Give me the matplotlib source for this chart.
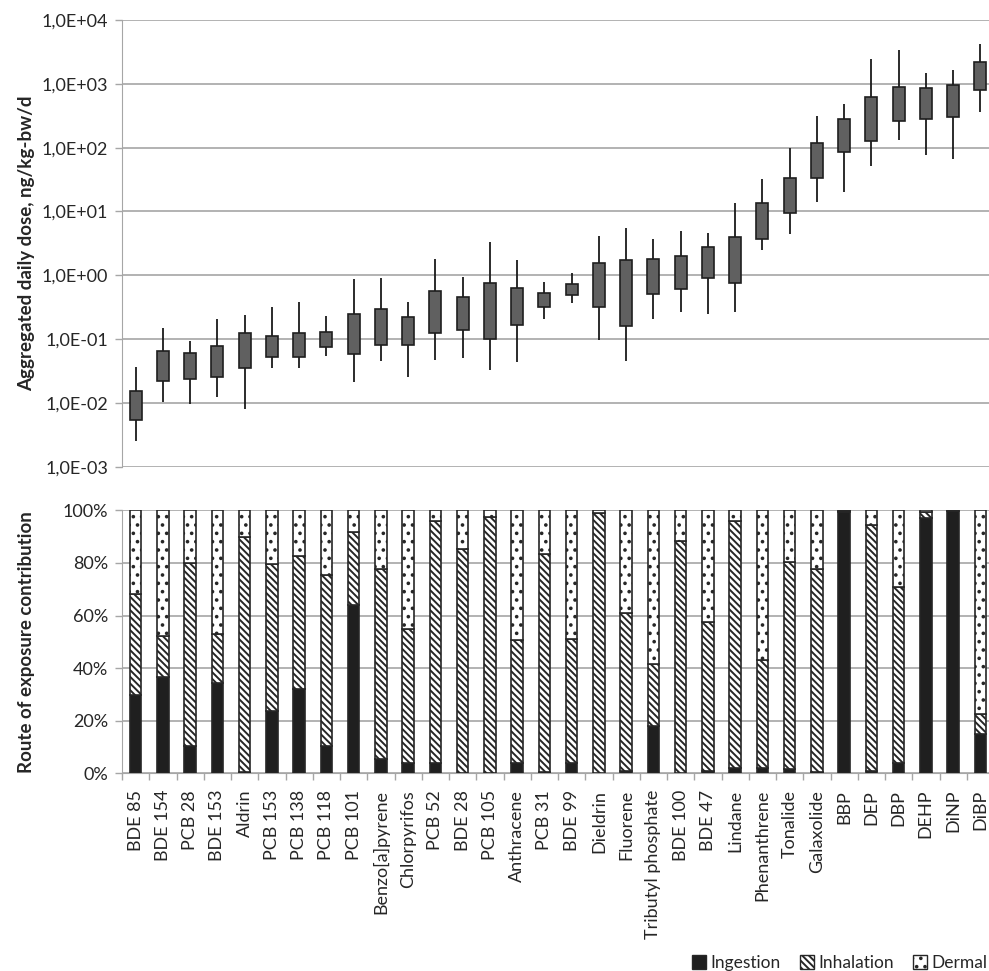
import numpy as np
import matplotlib
matplotlib.use("Agg")
import matplotlib.pyplot as plt
from matplotlib.patches import Patch
from matplotlib.ticker import FixedLocator, FuncFormatter

plt.rcParams['font.family'] = ['Lato', 'DejaVu Sans']
plt.rcParams['hatch.linewidth'] = 1.4

names = ['BDE 85', 'BDE 154', 'PCB 28', 'BDE 153', 'Aldrin', 'PCB 153', 'PCB 138',
         'PCB 118', 'PCB 101', 'Benzo[a]pyrene', 'Chlorpyrifos', 'PCB 52', 'BDE 28',
         'PCB 105', 'Anthracene', 'PCB 31', 'BDE 99', 'Dieldrin', 'Fluorene',
         'Tributyl phosphate', 'BDE 100', 'BDE 47', 'Lindane', 'Phenanthrene',
         'Tonalide', 'Galaxolide', 'BBP', 'DEP', 'DBP', 'DEHP', 'DiNP', 'DiBP']

# aggregated daily dose, ng/kg-bw/d
whisker_lo = [0.0025, 0.0102, 0.0095, 0.0122, 0.0079, 0.0356, 0.0347, 0.0535, 0.0214, 0.0457,
              0.0257, 0.0463, 0.0509, 0.0331, 0.0441, 0.203, 0.371, 0.0977, 0.0452, 0.206,
              0.262, 0.247, 0.268, 2.45, 4.37, 13.9, 19.9, 50.8, 133, 77.5, 67.1, 366]
box_lo = [0.0053, 0.0222, 0.0233, 0.0254, 0.0347, 0.0522, 0.0528, 0.0758, 0.0589, 0.0805,
          0.0796, 0.123, 0.140, 0.102, 0.166, 0.313, 0.490, 0.318, 0.158, 0.501,
          0.600, 0.904, 0.755, 3.65, 9.33, 33.8, 86.3, 125, 258, 281, 298, 790]
box_hi = [0.0155, 0.065, 0.060, 0.078, 0.123, 0.110, 0.123, 0.127, 0.244, 0.295,
          0.221, 0.565, 0.461, 0.755, 0.622, 0.532, 0.728, 1.55, 1.71, 1.77,
          2.02, 2.77, 3.92, 13.7, 33.0, 119, 281, 629, 902, 869, 969, 2170]
whisker_hi = [0.036, 0.147, 0.093, 0.21, 0.238, 0.318, 0.38, 0.229, 0.87, 0.90,
              0.376, 1.79, 0.926, 3.27, 1.73, 0.773, 1.07, 4.07, 5.56, 3.65,
              4.87, 4.53, 13.4, 31.8, 97.4, 309, 477, 2477, 3347, 1459, 1645, 4205]

# route of exposure contribution, %
ingestion = [29.7, 36.8, 10.5, 34.3, 0.4, 23.8, 32.0, 10.5, 63.9, 5.6, 3.8, 4.1, 0.3, 0.3,
             3.8, 0.6, 3.8, 0.3, 0.9, 18.1, 0.3, 0.9, 1.9, 1.9, 1.6, 0.6, 99.3, 0.9, 3.8,
             97.0, 99.7, 14.9]
inhalation = [38.5, 15.4, 69.5, 18.5, 89.6, 55.7, 50.6, 64.8, 27.7, 72.2, 51.0, 91.9, 85.1,
              97.3, 46.8, 82.8, 47.4, 98.6, 60.2, 23.3, 88.2, 56.5, 94.0, 41.3, 78.9, 77.0,
              0.3, 93.5, 67.2, 2.5, 0.2, 7.5]
dermal = [31.8, 47.8, 20.0, 47.2, 10.0, 20.5, 17.4, 24.7, 8.4, 22.2, 45.2, 4.0, 14.6, 2.4,
          49.4, 16.6, 48.8, 1.1, 38.9, 58.6, 11.5, 42.6, 4.1, 56.8, 19.5, 22.4, 0.4, 5.6,
          29.0, 0.5, 0.1, 77.6]

txt = '#262626'
grid = '#a6a6a6'
W, H = 989, 971
fig = plt.figure(figsize=(W / 100, H / 100), dpi=100)

x0, x1 = 122, 994
ax1 = fig.add_axes([x0 / W, 1 - 466.7 / H, (x1 - x0) / W, (466.7 - 20) / H])
ax2 = fig.add_axes([x0 / W, 1 - 773.3 / H, (x1 - x0) / W, (773.3 - 510.3) / H])

x = np.arange(len(names))

# top panel: dose ranges
ax1.set_yscale('log')
ax1.vlines(x, whisker_lo, whisker_hi, color='#1a1a1a', lw=1.3, zorder=2)
lo = np.array(box_lo)
hi = np.array(box_hi)
ax1.bar(x, hi - lo, bottom=lo, width=0.44, color='#606060', edgecolor='#1f1f1f',
        lw=1.2, zorder=3)
ax1.set_ylim(1e-3, 1e4)
ax1.set_xlim(-0.5, len(names) - 0.5)
ax1.yaxis.set_major_locator(FixedLocator([10.0 ** k for k in range(-3, 5)]))
ax1.yaxis.set_minor_locator(FixedLocator([]))
ax1.yaxis.set_major_formatter(FuncFormatter(
    lambda v, p: '1,0E%s%02d' % ('+' if v >= 1 else '-', abs(int(round(np.log10(v)))))))
ax1.set_xticks([])
ax1.set_ylabel('Aggregated daily dose, ng/kg-bw/d', fontsize=13.5, fontweight='bold',
               color=txt)

# bottom panel: stacked contributions
ing = np.array(ingestion) / 100
inh = np.array(inhalation) / 100
der = np.array(dermal) / 100
bw = 0.42
ax2.bar(x, ing, width=bw, color='#1f1f1f', edgecolor='#262626', lw=1.2, zorder=3)
ax2.bar(x, inh, bottom=ing, width=bw, color='white', edgecolor='#262626',
        hatch='\\\\\\\\\\', lw=1.2, zorder=3)
ax2.bar(x, der, bottom=ing + inh, width=bw, color='white', edgecolor='#262626',
        hatch='..', lw=1.2, zorder=3)
ax2.set_ylim(0, 1)
ax2.set_xlim(-0.5, len(names) - 0.5)
ax2.set_yticks(np.arange(0, 1.01, 0.2))
ax2.set_yticklabels(['%d%%' % round(v * 100) for v in np.arange(0, 1.01, 0.2)])
ax2.set_xticks(x)
ax2.set_xticklabels(names, rotation=90, fontsize=13, color=txt)
ax2.set_xticks(np.arange(-0.5, len(names), 1), minor=True)
ax2.tick_params(axis='x', which='major', length=0, pad=12)
ax2.tick_params(axis='x', which='minor', length=5, color=grid, width=1)
ax2.set_ylabel('Route of exposure contribution', fontsize=13.5, fontweight='bold',
               color=txt)

for ax in (ax1, ax2):
    for s in ('top', 'right'):
        ax.spines[s].set_visible(False)
    ax.spines['left'].set_color(grid)
    ax.spines['bottom'].set_color(grid)
    ax.grid(axis='y', color=grid, lw=1.2, zorder=0)
    ax.set_axisbelow(True)
    ax.tick_params(axis='y', which='major', length=5, color=grid, width=1,
                   labelsize=13, labelcolor=txt, pad=5)
ax1.spines['bottom'].set_visible(False)

# label anchor is the right edge of the rotated text
ax1.yaxis.set_label_coords(-(x0 - 35) / (x1 - x0), 0.5)
ax2.yaxis.set_label_coords(-(x0 - 35) / (x1 - x0), 0.5)

handles = [Patch(facecolor='#1f1f1f', edgecolor='#262626', label='Ingestion'),
           Patch(facecolor='white', edgecolor='#262626', hatch='\\\\\\\\\\', label='Inhalation'),
           Patch(facecolor='white', edgecolor='#262626', hatch='..', label='Dermal')]
fig.legend(handles=handles, loc='lower right', bbox_to_anchor=(1.014, -0.016), ncol=3,
           frameon=False, fontsize=12.5, handlelength=0.8, handleheight=0.8,
           handletextpad=0.25, columnspacing=1.1, labelcolor=txt)

fig.savefig('out.png', dpi=100)
